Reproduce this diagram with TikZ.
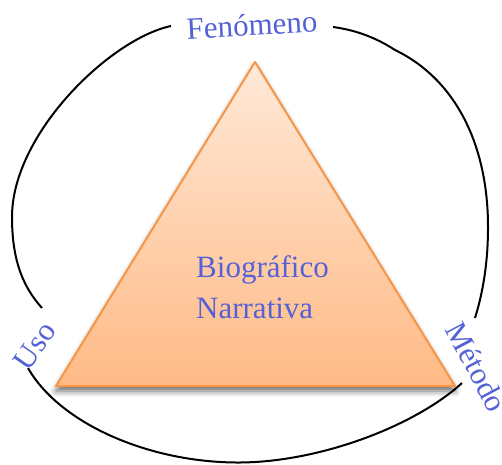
\documentclass[tikz,border=0pt]{standalone}
\usepackage{fontspec}
\setmainfont{Liberation Serif}
\usetikzlibrary{shadows.blur}
\definecolor{labelblue}{RGB}{84,98,214}
\definecolor{triborder}{RGB}{247,150,70}
\definecolor{tritop}{RGB}{255,233,216}
\definecolor{tribottom}{RGB}{255,186,134}

\begin{document}
\begin{tikzpicture}[x=1pt, y=1pt, lbl/.style={text=labelblue, font=\fontsize{31}{36}\selectfont, inner sep=0pt}]
	\useasboundingbox (0,0) rectangle (502,464);
	% triangle
	\draw[line width=2pt, draw=triborder, line join=round, top color=tritop, bottom color=tribottom,
		blur shadow={shadow xshift=0pt, shadow yshift=-5pt, shadow blur radius=6pt, shadow opacity=60}]
		(56,78) -- (255,402) -- (455,78) -- cycle;
	\node[lbl, anchor=base west] (bio) at (196,187) {Biográfico};
	\node[lbl, anchor=base west] (nar) at (196,146) {Narrativa};
	% loop round it, cut at the three labels
	\draw[line width=2pt] (171,438) .. controls (110,425) and (12,330) .. (12,247)
		.. controls (12,200) and (25,175) .. (42,156);
	\draw[line width=2pt] (28,96) .. controls (60,40) and (150,1) .. (240,1.5)
		.. controls (320,2) and (415,38) .. (462,81);
	\draw[line width=2pt] (475,146) .. controls (484,175) and (488,205) .. (488,237)
		.. controls (488,320) and (455,385) .. (395,414)
		.. controls (375,427) and (355,434) .. (333,437);
	\node[lbl, rotate=3] (fen) at (252,439) {Fenómeno};
	\node[lbl, rotate=55] (uso) at (35,118) {Uso};
	\node[lbl, rotate=-62] (met) at (477,97) {Método};
\end{tikzpicture}
\end{document}
